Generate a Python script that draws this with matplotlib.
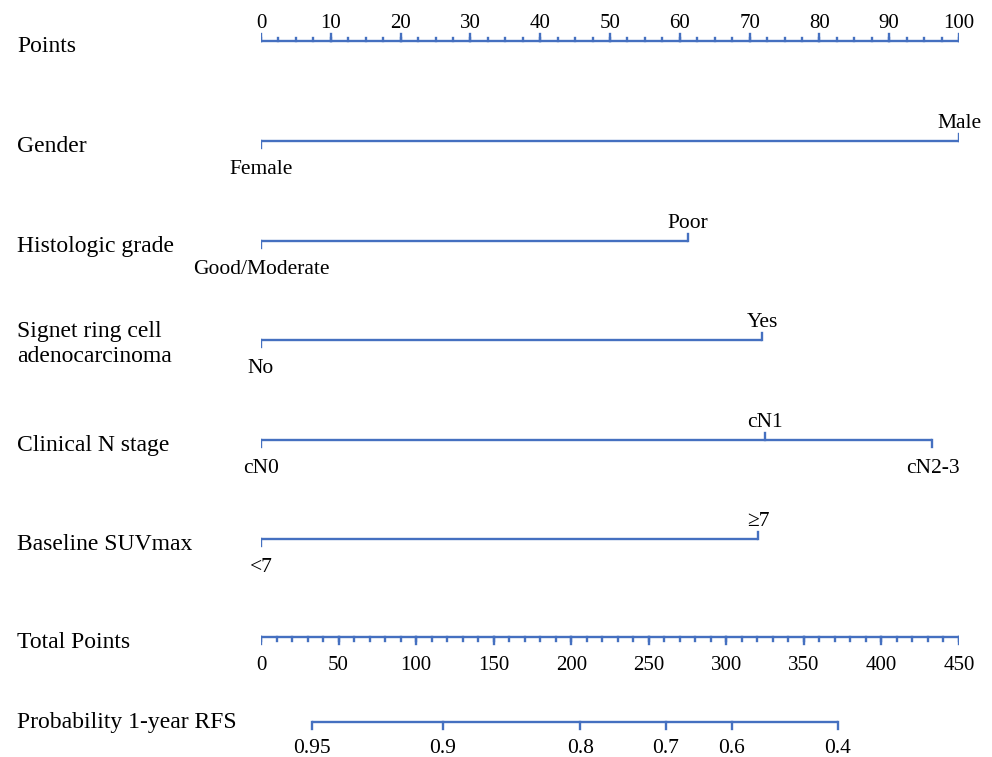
import numpy as np
import matplotlib
matplotlib.use('Agg')
import matplotlib.pyplot as plt
from matplotlib.transforms import blended_transform_factory

W, H = 992, 757
BLUE = '#4570C0'
FS_NAME = 17     # row names on the left
FS_CAT = 15.5    # level labels
FS_TICK = 15     # numeric scale labels
FS_PROB = 15.5
plt.rcParams['font.family'] = ['Liberation Serif', 'DejaVu Serif']

# ---- data ----
points_major = np.arange(0, 101, 10)
points_minor = np.arange(0, 100.1, 2.5)
total_major = np.arange(0, 451, 50)
total_minor = np.arange(0, 451, 10)

gender_levels = ['Female', 'Male']
gender_pts = [0, 100]
grade_levels = ['Good/Moderate', 'Poor']
grade_pts = [0, 61.2]
signet_levels = ['No', 'Yes']
signet_pts = [0, 71.8]
cn_levels = ['cN0', 'cN1', 'cN2-3']
cn_pts = [0, 72.2, 96.2]
suv_levels = ['<7', '≥7']
suv_pts = [0, 71.2]

prob_labels = ['0.95', '0.9', '0.8', '0.7', '0.6', '0.4']
prob_total_pts = [32.9, 117.1, 205.9, 260.9, 303.5, 371.8]

# ---- layout (pixel rows) ----
Y_POINTS, Y_GENDER, Y_GRADE, Y_SIGNET, Y_CN, Y_SUV, Y_TOTAL, Y_PROB = 41, 141, 241, 340, 440, 539, 637, 722
LW = 1.7
MAJ, MIN = 7, 3.5
ABOVE, BELOW = -13, 33   # baseline offsets of tick labels

fig = plt.figure(figsize=(W / 100, H / 100), dpi=100)
rect = [261 / W, 0, 698 / W, 1]
ax = fig.add_axes(rect)
ax.set_xlim(0, 100); ax.set_ylim(H, 0); ax.axis('off')
axt = fig.add_axes(rect)
axt.set_xlim(0, 450); axt.set_ylim(H, 0); axt.axis('off')

lbl = blended_transform_factory(fig.transFigure, ax.transData)


def left_label(y, text, dy=11):
    ax.text(17 / W, y + dy, text, transform=lbl, fontsize=FS_NAME, ha='left', va='baseline')


def scale(a, y, major, minor, up, labels=None, fs=FS_TICK, below=BELOW):
    a.plot([major[0], major[-1]], [y, y], color=BLUE, lw=LW, solid_capstyle='butt')
    s = -1 if up else 1
    for v in minor:
        a.plot([v, v], [y, y + s * MIN], color=BLUE, lw=LW)
    for v in major:
        a.plot([v, v], [y, y + s * MAJ], color=BLUE, lw=LW)
    labels = labels if labels is not None else [f'{v:g}' for v in major]
    for v, t in zip(major, labels):
        a.text(v, y + (ABOVE if up else below), t, fontsize=fs, ha='center', va='baseline')


def categorical(y, pts, levels):
    ax.plot([min(pts), max(pts)], [y, y], color=BLUE, lw=LW, solid_capstyle='butt')
    for i, (v, t) in enumerate(zip(pts, levels)):
        up = i % 2 == 1
        s = -1 if up else 1
        ax.plot([v, v], [y, y + s * MAJ], color=BLUE, lw=LW)
        ax.text(v, y + (ABOVE if up else BELOW), t, fontsize=FS_CAT, ha='center', va='baseline')


left_label(Y_POINTS, 'Points')
scale(ax, Y_POINTS, points_major, points_minor, up=True)

left_label(Y_GENDER, 'Gender')
categorical(Y_GENDER, gender_pts, gender_levels)

left_label(Y_GRADE, 'Histologic grade')
categorical(Y_GRADE, grade_pts, grade_levels)

ax.text(17 / W, Y_SIGNET + 4, 'Signet ring cell\nadenocarcinoma', transform=lbl,
        fontsize=FS_NAME, ha='left', va='center', linespacing=1.25)
categorical(Y_SIGNET, signet_pts, signet_levels)

left_label(Y_CN, 'Clinical N stage')
categorical(Y_CN, cn_pts, cn_levels)

left_label(Y_SUV, 'Baseline SUVmax')
categorical(Y_SUV, suv_pts, suv_levels)

left_label(Y_TOTAL, 'Total Points')
scale(axt, Y_TOTAL, total_major, total_minor, up=False)

left_label(Y_PROB, 'Probability 1-year RFS', dy=6)
scale(axt, Y_PROB, prob_total_pts, [], up=False, labels=prob_labels, fs=FS_PROB, below=31)

fig.savefig('out.png', dpi=100)
